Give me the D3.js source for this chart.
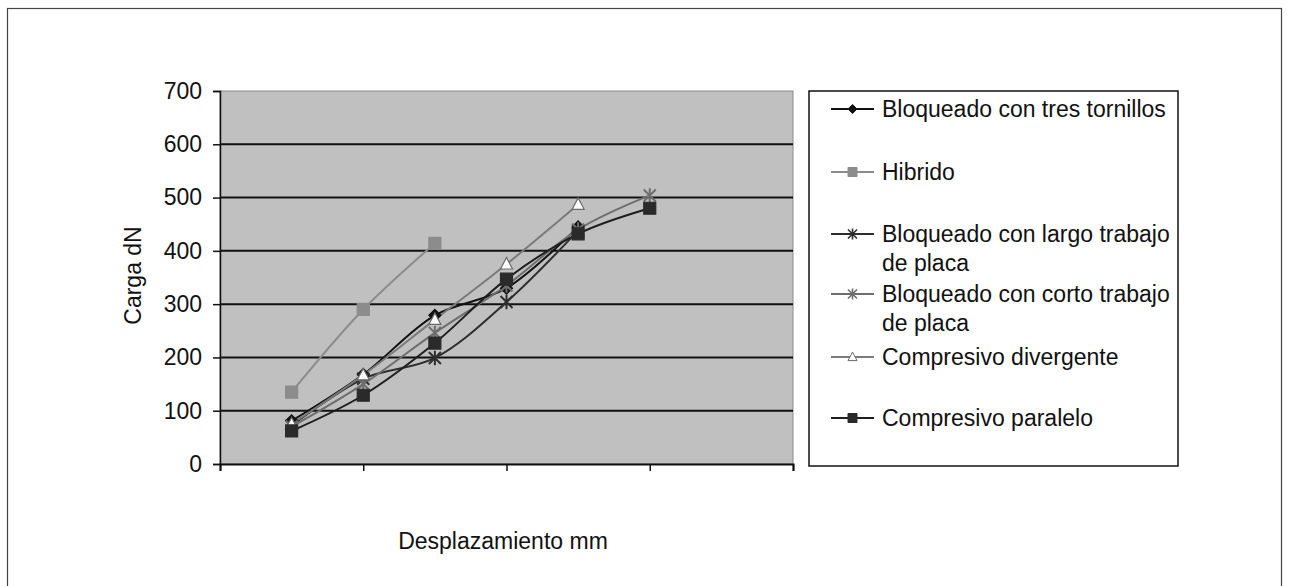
<!DOCTYPE html>
<html>
<head>
<meta charset="utf-8">
<script src="https://cdn.jsdelivr.net/npm/d3@7"></script>
<style>
  html, body { margin: 0; padding: 0; background: #fff; }
  svg { display: block; font-family: "Liberation Sans", Arial, sans-serif; }
</style>
</head>
<body>
<svg id="chart" width="1289" height="586"></svg>
<script>
// ---- data ----
const xValues = [1, 2, 3, 4, 5, 6];
const xTicks = [0, 2, 4, 6, 8];
const yTicks = [0, 100, 200, 300, 400, 500, 600, 700];
const seriesNames = [
  "Bloqueado con tres tornillos",
  "Hibrido",
  "Bloqueado con largo trabajo de placa",
  "Bloqueado con corto trabajo de placa",
  "Compresivo divergente",
  "Compresivo paralelo"
];
const tresTornillos = [81, 168, 279, 330, 445, null];
const hibrido = [135, 290, 414, null, null, null];
const largoTrabajo = [72, 160, 199, 304, 438, null];
const cortoTrabajo = [70, 150, 246, 335, 440, 504];
const divergente = [75, 167, 271, 375, 487, null];
const paralelo = [62, 129, 227, 347, 432, 480];
const seriesValues = [tresTornillos, hibrido, largoTrabajo, cortoTrabajo, divergente, paralelo];

// ---- styles ----
const styles = [
  {line: "#111", marker: "diamond", fill: "#111", stroke: "#111"},
  {line: "#8c8c8c", marker: "square", fill: "#8c8c8c", stroke: "#8c8c8c"},
  {line: "#2e2e2e", marker: "asterisk", fill: "none", stroke: "#2e2e2e"},
  {line: "#6e6e6e", marker: "asterisk", fill: "none", stroke: "#6e6e6e"},
  {line: "#7a7a7a", marker: "triangle", fill: "#fff", stroke: "#6a6a6a"},
  {line: "#1e1e1e", marker: "square", fill: "#2a2a2a", stroke: "#2a2a2a"}
];

const FONT = 23;
const svg = d3.select("#chart");

// outer frame
svg.append("rect").attr("x", 7.5).attr("y", 8.5).attr("width", 1274).attr("height", 600)
  .attr("fill", "none").attr("stroke", "#444").attr("stroke-width", 1.2);

const plot = {x0: 220, x1: 793, y0: 91, y1: 464};
const x = d3.scaleLinear().domain([0, 8]).range([plot.x0, plot.x1]);
const y = d3.scaleLinear().domain([0, 700]).range([plot.y1, plot.y0]);

// plot background
svg.append("rect").attr("x", plot.x0).attr("y", plot.y0)
  .attr("width", plot.x1 - plot.x0).attr("height", plot.y1 - plot.y0)
  .attr("fill", "#c0c0c0").attr("stroke", "#8a8a8a").attr("stroke-width", 1);

// gridlines
svg.append("g").selectAll("line").data(yTicks.filter(d => d > 0 && d < 700)).join("line")
  .attr("x1", plot.x0).attr("x2", plot.x1)
  .attr("y1", d => y(d)).attr("y2", d => y(d))
  .attr("stroke", "#111").attr("stroke-width", 2);

// y axis
const yAxis = svg.append("g").attr("transform", `translate(${plot.x0},0)`)
  .call(d3.axisLeft(y).tickValues(yTicks).tickSize(7).tickPadding(11));
yAxis.select(".domain").attr("stroke", "#111").attr("stroke-width", 1.5);
yAxis.selectAll(".tick line").attr("stroke", "#111").attr("stroke-width", 1.5);
yAxis.selectAll(".tick text").attr("font-size", FONT).attr("fill", "#111")
  .attr("font-family", "Liberation Sans, Arial, sans-serif");

// x axis
const xAxis = svg.append("g").attr("transform", `translate(0,${plot.y1})`)
  .call(d3.axisBottom(x).tickValues(xTicks).tickSize(7).tickFormat(""));
xAxis.select(".domain").attr("stroke", "#111").attr("stroke-width", 2);
xAxis.selectAll(".tick line").attr("stroke", "#111").attr("stroke-width", 1.5);

// axis titles
svg.append("text").attr("transform", `translate(141,${(plot.y0 + plot.y1) / 2 - 2}) rotate(-90)`)
  .attr("text-anchor", "middle").attr("font-size", FONT).attr("fill", "#111").text("Carga dN");
svg.append("text").attr("x", 503).attr("y", 549)
  .attr("text-anchor", "middle").attr("font-size", FONT).attr("fill", "#111").text("Desplazamiento mm");

// markers
function markerPath(type, s) {
  if (type === "diamond") return `M0,${-s}L${s},0L0,${s}L${-s},0Z`;
  if (type === "square") return `M${-s},${-s}H${s}V${s}H${-s}Z`;
  if (type === "triangle") return `M0,${-s * 1.1}L${s},${s * 0.8}L${-s},${s * 0.8}Z`;
  if (type === "asterisk") return `M${-s},${-s}L${s},${s}M${-s},${s}L${s},${-s}M0,${-s * 1.2}L0,${s * 1.2}`;
  return "";
}

const line = d3.line()
  .defined(d => d.v !== null)
  .x(d => x(d.x)).y(d => y(d.v))
  .curve(d3.curveCatmullRom.alpha(0.5));

const series = seriesValues.map((vals, i) => ({
  name: seriesNames[i], style: styles[i],
  pts: xValues.map((xv, j) => ({x: xv, v: vals[j]}))
}));

const gLines = svg.append("g");
series.forEach(s => {
  gLines.append("path").datum(s.pts).attr("d", line)
    .attr("fill", "none").attr("stroke", s.style.line).attr("stroke-width", 2);
});
series.forEach(s => {
  gLines.append("g").selectAll("path").data(s.pts.filter(d => d.v !== null)).join("path")
    .attr("transform", d => `translate(${x(d.x)},${y(d.v)})`)
    .attr("d", markerPath(s.style.marker, 6))
    .attr("fill", s.style.fill).attr("stroke", s.style.stroke)
    .attr("stroke-width", s.style.marker === "asterisk" ? 2 : 1.2);
});

// legend
const legend = {x0: 809, y0: 91, x1: 1178, y1: 466};
svg.append("rect").attr("x", legend.x0).attr("y", legend.y0)
  .attr("width", legend.x1 - legend.x0).attr("height", legend.y1 - legend.y0)
  .attr("fill", "#fff").attr("stroke", "#111").attr("stroke-width", 1.5);

const legendRows = [
  {lines: ["Bloqueado con tres tornillos"], y: 109},
  {lines: ["Hibrido"], y: 172},
  {lines: ["Bloqueado con largo trabajo", "de placa"], y: 234},
  {lines: ["Bloqueado con corto trabajo", "de placa"], y: 294},
  {lines: ["Compresivo divergente"], y: 357},
  {lines: ["Compresivo paralelo"], y: 418}
];
legendRows.forEach((r, i) => {
  const st = styles[i];
  svg.append("line").attr("x1", 831).attr("x2", 874).attr("y1", r.y).attr("y2", r.y)
    .attr("stroke", st.line).attr("stroke-width", 2);
  svg.append("path").attr("transform", `translate(852.5,${r.y})`)
    .attr("d", markerPath(st.marker, 4.5))
    .attr("fill", st.fill).attr("stroke", st.stroke)
    .attr("stroke-width", st.marker === "asterisk" ? 1.6 : 1);
  const t = svg.append("text").attr("x", 882).attr("y", r.y).attr("font-size", FONT).attr("fill", "#111");
  r.lines.forEach((ln, k) => {
    t.append("tspan").attr("x", 882).attr("dy", k === 0 ? "0.35em" : 29).text(ln);
  });
});
</script>
</body>
</html>
